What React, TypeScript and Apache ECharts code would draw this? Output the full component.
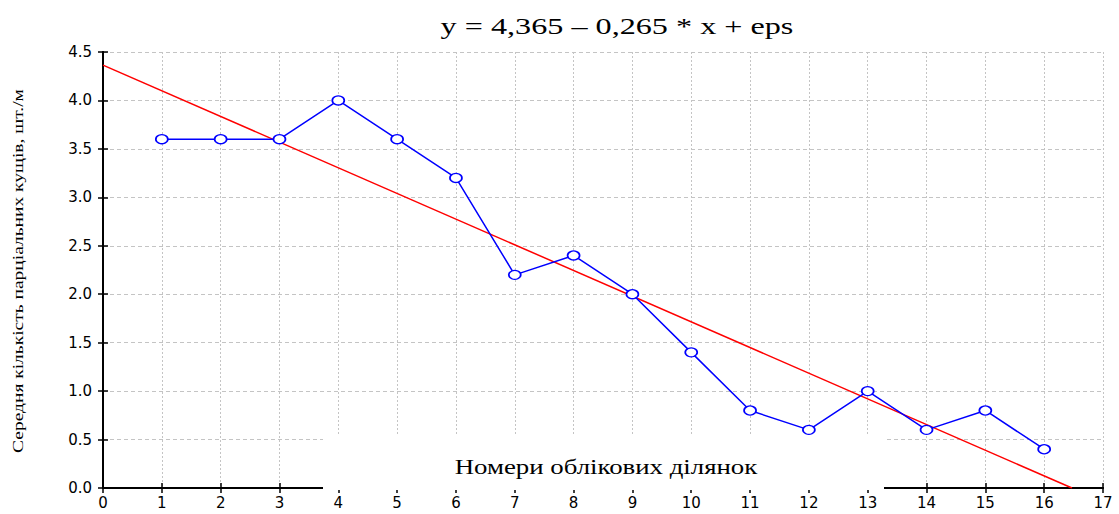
import React, { useEffect, useRef } from "react";
import * as echarts from "echarts";

const plotNumbers = [1, 2, 3, 4, 5, 6, 7, 8, 9, 10, 11, 12, 13, 14, 15, 16];
const meanBushes = [3.6, 3.6, 3.6, 4.0, 3.6, 3.2, 2.2, 2.4, 2.0, 1.4, 0.8, 0.6, 1.0, 0.6, 0.8, 0.4];
const regressionLine = [
  [0, 4.365],
  [16.472, 0],
];
const titleText = "y = 4,365 – 0,265 * x + eps";
const xAxisTitle = "Номери облікових ділянок";
const yAxisTitle = "Середня кількість парціальних кущів, шт./м";

const serif = "Liberation Serif";
const sans = "DejaVu Sans";

export default function App() {
  const ref = useRef<HTMLDivElement>(null);
  useEffect(() => {
    if (!ref.current) return;
    const chart = echarts.init(ref.current, null, { renderer: "svg" });
    const axisLine = { show: true, lineStyle: { color: "#000", width: 2 } };
    const tick = { show: true, inside: true, length: 5, lineStyle: { color: "#000", width: 1.5 } };
    chart.setOption({
      animation: false,
      backgroundColor: "#fff",
      grid: { left: 103, right: 16, top: 52, bottom: 26, containLabel: false },
      xAxis: [
        {
          type: "value",
          min: 0,
          max: 17,
          interval: 1,
          position: "bottom",
          axisLine,
          axisTick: tick,
          axisLabel: { color: "#000", fontFamily: sans, fontSize: 15, margin: 7 },
          splitLine: { show: true, lineStyle: { color: "#c4c4c4", type: [2, 2] as any, width: 1 } },
        },
        {
          type: "value",
          min: 0,
          max: 17,
          interval: 1,
          position: "top",
          axisLine,
          axisTick: tick,
          axisLabel: { show: false },
          splitLine: { show: false },
        },
      ],
      yAxis: [
        {
          type: "value",
          min: 0,
          max: 4.5,
          interval: 0.5,
          position: "left",
          axisLine,
          axisTick: tick,
          axisLabel: {
            color: "#000",
            fontFamily: sans,
            fontSize: 15,
            margin: 11,
            formatter: (v: number) => v.toFixed(1),
          },
          splitLine: { show: true, lineStyle: { color: "#c4c4c4", type: [4, 3] as any, width: 1 } },
        },
        {
          type: "value",
          min: 0,
          max: 4.5,
          interval: 0.5,
          position: "right",
          axisLine,
          axisTick: tick,
          axisLabel: { show: false },
          splitLine: { show: false },
        },
      ],
      series: [
        {
          type: "line",
          data: regressionLine,
          showSymbol: false,
          symbol: "none",
          lineStyle: { color: "#ff0000", width: 1.5 },
          z: 3,
        },
        {
          type: "line",
          data: plotNumbers.map((x, i) => [x, meanBushes[i]]),
          symbol: "circle",
          symbolSize: [12, 9],
          itemStyle: { color: "#fff", borderColor: "#0000ff", borderWidth: 1.5 },
          lineStyle: { color: "#0000ff", width: 1.5 },
          z: 4,
        },
      ],
      graphic: [
        {
          type: "rect",
          shape: { x: 323, y: 436, width: 561, height: 54 },
          style: { fill: "#fff" },
          z: 100,
          silent: true,
        },
        {
          type: "text",
          x: 606,
          y: 466,
          scaleX: 1.22,
          z: 101,
          style: {
            text: xAxisTitle,
            fill: "#000",
            font: `22px "${serif}"`,
            textAlign: "center",
            textVerticalAlign: "middle",
          },
        },
        {
          type: "text",
          x: 617,
          y: 26,
          scaleX: 1.4,
          z: 101,
          style: {
            text: titleText,
            fill: "#000",
            font: `23px "${serif}"`,
            textAlign: "center",
            textVerticalAlign: "middle",
          },
        },
        {
          type: "text",
          x: 18,
          y: 271,
          rotation: Math.PI / 2,
          scaleX: 1.3,
          z: 101,
          style: {
            text: yAxisTitle,
            fill: "#000",
            font: `15px "${serif}"`,
            textAlign: "center",
            textVerticalAlign: "middle",
          },
        },
      ],
    });
    return () => chart.dispose();
  }, []);
  return (
    <div
      ref={ref}
      style={{ position: "fixed", left: 0, top: 0, width: 1119, height: 514 }}
    />
  );
}
